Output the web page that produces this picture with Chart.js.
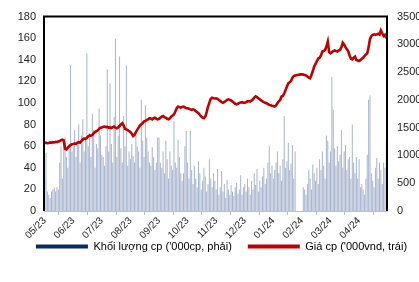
<!DOCTYPE html>
<html>
<head>
<meta charset="utf-8">
<script src="https://cdn.jsdelivr.net/npm/chart.js@4.4.1/dist/chart.umd.min.js"></script>
<style>
  html, body { margin: 0; padding: 0; background: #fff; }
  #wrap { width: 419px; height: 282px; }
</style>
</head>
<body>
<div id="wrap"><canvas id="chart" width="419" height="282"></canvas></div>
<script>
// thang (moi thang ~21 phien)
var months = ['05/23','06/23','07/23','08/23','09/23','10/23','11/23','12/23','01/24','02/24','03/24','04/24'];
var perMonth = 21;

// khoi luong cp ('000cp) - truc trai
var volume = [
  30,54,18,15,12,18,20,22,18,22,20,45,60,30,65,68,50,40,62,135,55,
  60,75,50,65,80,45,70,85,55,68,146,60,72,50,90,75,40,62,58,95,70,
  52,50,42,60,131,55,118,62,45,87,159,50,70,143,58,45,88,60,135,42,55,
  48,62,51,45,70,60,55,40,103,65,50,98,68,55,45,42,59,50,38,45,68,
  68,45,40,55,35,65,48,30,55,42,38,83,45,40,66,50,35,28,35,60,74,
  45,30,74,38,25,42,30,22,46,35,20,28,40,32,18,25,48,30,22,35,28,
  20,39,15,22,37,18,25,12,29,20,15,24,18,14,22,26,16,20,33,15,22,
  25,18,30,22,15,28,20,35,24,39,18,28,22,32,40,25,30,45,60,35,42,
  30,38,45,55,35,42,28,48,88,40,46,63,38,44,61,30,55,0,0,0,0,
  0,22,20,15,25,38,30,20,43,35,28,40,25,48,38,55,42,30,70,65,45,
  55,124,94,58,42,60,46,52,75,40,55,61,38,48,50,30,80,45,35,50,30,
  48,22,25,20,15,30,52,103,107,35,28,22,40,49,30,45,38,25,45,40,65
];

// gia cp ('000vnd) - truc phai
var price = [
  1225,1230,1220,1225,1235,1230,1240,1235,1245,1240,1250,1260,1275,1283,1270,1120,1108,1140,1165,1185,1200,
  1205,1215,1210,1225,1240,1230,1260,1290,1305,1300,1320,1345,1360,1355,1370,1400,1420,1440,1450,1480,1500,
  1505,1515,1520,1510,1515,1500,1505,1495,1510,1520,1500,1490,1505,1530,1560,1580,1540,1480,1470,1455,1440,
  1420,1390,1350,1370,1420,1460,1500,1540,1560,1580,1615,1620,1640,1650,1670,1665,1650,1670,1680,1660,1650,
  1660,1680,1700,1710,1690,1680,1660,1650,1670,1700,1720,1740,1790,1850,1880,1870,1860,1875,1880,1865,1850,
  1850,1840,1830,1820,1830,1820,1800,1780,1760,1730,1705,1680,1670,1700,1780,1880,1950,2020,2040,2030,2025,
  2030,2020,2000,1980,1960,1950,1965,1980,2000,2010,2000,1990,1970,1950,1930,1920,1930,1945,1955,1960,1950,
  1950,1960,1975,1980,1970,1990,2010,2040,2064,2050,2030,2010,1990,1975,1960,1950,1940,1925,1910,1903,1895,
  1890,1880,1900,1940,1975,2000,2060,2070,2120,2180,2240,2300,2320,2340,2400,2430,2440,2445,2450,2455,2460,
  2460,2455,2450,2440,2420,2400,2390,2450,2520,2600,2650,2700,2745,2760,2800,2870,2880,2900,2960,3050,2860,
  2840,2860,2880,2890,2880,2870,2890,2900,2950,3030,3000,2950,2910,2880,2800,2740,2730,2760,2780,2720,2710,
  2700,2720,2740,2760,2790,2820,2840,2950,3100,3150,3170,3180,3170,3180,3190,3175,3250,3200,3150,3170,3110
];

var labels = [];
for (var m = 0; m < months.length; m++) {
  for (var d = 0; d < perMonth; d++) labels.push(months[m]);
}

var fontFam = '"Liberation Sans", Arial, sans-serif';
Chart.defaults.font.family = fontFam;
Chart.defaults.font.size = 11;
Chart.defaults.color = '#262626';

// khung den tren / trai / phai + dich chu thich
var khung = {
  id: 'khung',
  afterLayout: function (chart) {
    var lg = chart.legend;
    lg.left += 12; lg.right += 12;
    lg.top -= 14; lg.bottom -= 14;
  },
  afterDatasetsDraw: function (chart) {
    var a = chart.chartArea, c = chart.ctx;
    c.save();
    c.strokeStyle = '#000';
    c.lineWidth = 2;
    c.beginPath();
    c.moveTo(a.left, a.bottom);
    c.lineTo(a.left, a.top);
    c.lineTo(a.right, a.top);
    c.lineTo(a.right, a.bottom);
    c.stroke();
    c.restore();
  }
};

new Chart(document.getElementById('chart'), {
  type: 'bar',
  data: {
    labels: labels,
    datasets: [
      {
        label: "Khối lượng cp ('000cp, phải)",
        data: volume,
        yAxisID: 'yL',
        backgroundColor: 'rgba(160,173,202,0.9)',
        barPercentage: 0.75,
        categoryPercentage: 1.0,
        order: 2
      },
      {
        type: 'line',
        label: "Giá cp ('000vnd, trái)",
        data: price,
        yAxisID: 'yR',
        borderColor: '#C00000',
        borderWidth: 2.6,
        pointRadius: 0,
        tension: 0,
        fill: false,
        order: 1
      }
    ]
  },
  options: {
    responsive: false,
    animation: false,
    layout: { padding: { left: 0, right: 0, top: 15, bottom: 6 } },
    plugins: {
      tooltip: { enabled: false },
      legend: {
        position: 'bottom',
        labels: {
          boxWidth: 52,
          boxHeight: 4,
          padding: 16,
          font: { size: 11 },
          generateLabels: function () {
            return [
              { text: "Khối lượng cp ('000cp, phải)", fillStyle: '#0B2A63', strokeStyle: '#0B2A63', lineWidth: 0, datasetIndex: 0 },
              { text: "Giá cp ('000vnd, trái)", fillStyle: '#C00000', strokeStyle: '#C00000', lineWidth: 0, datasetIndex: 1 }
            ];
          }
        }
      }
    },
    scales: {
      x: {
        grid: { display: true, drawOnChartArea: false, drawTicks: true, tickLength: 4, color: '#bfbfbf' },
        border: { color: '#bfbfbf' },
        ticks: {
          autoSkip: false,
          maxRotation: 45,
          minRotation: 45,
          padding: 0,
          font: { size: 10 },
          callback: function (val, i) {
            if (i === 0 || labels[i] !== labels[i - 1]) return labels[i];
            return null;
          }
        },
        afterFit: function (s) { s.height = 28; }
      },
      yL: {
        position: 'left',
        min: 0, max: 180,
        ticks: { stepSize: 20, padding: 8 },
        grid: { display: false, drawTicks: false },
        border: { display: false },
        afterFit: function (s) { s.width = 44; }
      },
      yR: {
        position: 'right',
        min: 0, max: 3500,
        ticks: { stepSize: 500, padding: 10, callback: function (v) { return String(v); } },
        grid: { display: false, drawTicks: false },
        border: { display: false },
        afterFit: function (s) { s.width = 32; }
      }
    }
  },
  plugins: [khung]
});
</script>
</body>
</html>
